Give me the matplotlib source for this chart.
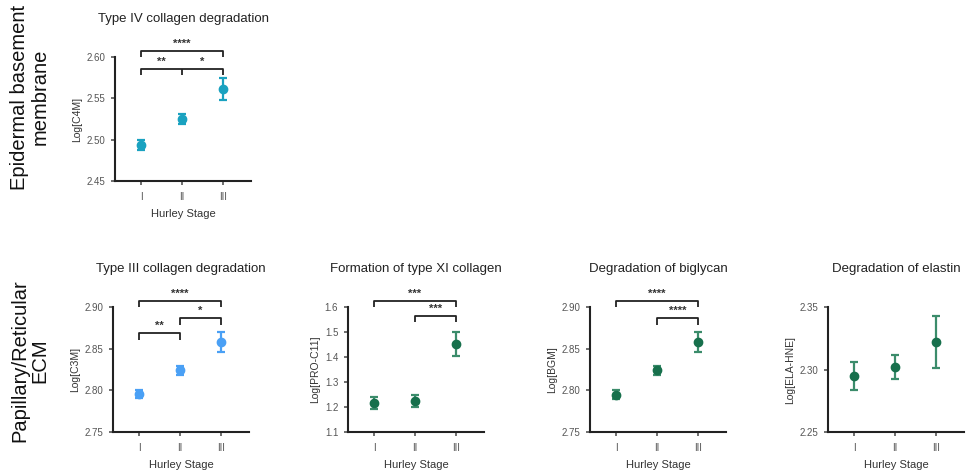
import matplotlib.pyplot as plt

plt.rcParams['font.family'] = ['Liberation Sans', 'DejaVu Sans']

stages = ['I', 'II', 'III']

c4m_mean = [2.494, 2.525, 2.561]
c4m_err = [0.006, 0.006, 0.013]

c3m_mean = [2.796, 2.824, 2.858]
c3m_err = [0.005, 0.005, 0.012]

proc11_mean = [1.215, 1.225, 1.452]
proc11_err = [0.025, 0.025, 0.048]

bgm_mean = [2.795, 2.824, 2.858]
bgm_err = [0.005, 0.005, 0.012]

elahne_mean = [2.295, 2.302, 2.322]
elahne_err = [0.011, 0.010, 0.021]

W, H = 967, 472
fig = plt.figure(figsize=(W / 100, H / 100), dpi=100)


def add_ax(left, top, bottom, width=136):
    return fig.add_axes([left / W, 1 - bottom / H, width / W, (bottom - top) / H])


def bracket(ax, x1, x2, y, h, text, mid=None):
    kw = dict(color='#222222', lw=1.3, clip_on=False, solid_capstyle='butt')
    ax.plot([x1, x1, x2, x2], [y - h, y, y, y - h], **kw)
    if mid is not None:
        ax.plot([mid, mid], [y - h, y], **kw)
    if text:
        ax.text((x1 + x2) / 2, y + h * 0.35, text, ha='center', va='bottom',
                fontsize=8, color='#333333', fontweight='bold')


def panel(ax, mean, err, color, ecolor, title, ylabel, ylim, yticks, fmt):
    x = [1, 2, 3]
    ax.errorbar(x, mean, yerr=err, fmt='o', color=color, ecolor=ecolor,
                markersize=6, elinewidth=1.6, capsize=3, capthick=1.6)
    ax.set_xlim(0.35, 3.7)
    ax.set_ylim(*ylim)
    ax.set_yticks(yticks)
    ax.set_yticklabels([fmt.format(v) for v in yticks])
    ax.set_xticks(x)
    ax.set_xticklabels(stages)
    for s in ['top', 'right']:
        ax.spines[s].set_visible(False)
    for s in ['left', 'bottom']:
        ax.spines[s].set_linewidth(1.5)
        ax.spines[s].set_color('#222222')
    ax.tick_params(labelsize=7, colors='#555555', length=3, width=1.2, pad=4)
    ax.tick_params(axis='x', pad=5)
    ax.set_xlabel('Hurley Stage', fontsize=8, color='#333333', labelpad=5)
    ax.set_ylabel(ylabel, fontsize=7.5, color='#333333', labelpad=3)
    ax.text(0.5, 1.0 + 38 / (ax.get_position().height * H), title,
            transform=ax.transAxes, ha='center', va='center',
            fontsize=9.5, color='#222222')


teal = '#1aa2c0'
blue = '#4aa0f5'
green = '#17704c'
green_bar = '#3b8c6b'

ax1 = add_ax(115, 57, 181)
panel(ax1, c4m_mean, c4m_err, teal, teal, 'Type IV collagen degradation',
      'Log[C4M]', (2.45, 2.60), [2.45, 2.50, 2.55, 2.60], '{:.2f}')
bracket(ax1, 1, 3, 2.6076, 0.0075, '****')
bracket(ax1, 1, 3, 2.5855, 0.0075, '', mid=2)
ax1.text(1.5, 2.5855 + 0.0025, '**', ha='center', va='bottom', fontsize=8,
         color='#333333', fontweight='bold')
ax1.text(2.5, 2.5855 + 0.0025, '*', ha='center', va='bottom', fontsize=8,
         color='#333333', fontweight='bold')

ax2 = add_ax(113, 307, 432)
panel(ax2, c3m_mean, c3m_err, blue, blue, 'Type III collagen degradation',
      'Log[C3M]', (2.75, 2.90), [2.75, 2.80, 2.85, 2.90], '{:.2f}')
bracket(ax2, 1, 3, 2.9076, 0.0075, '****')
bracket(ax2, 2, 3, 2.8864, 0.0075, '*')
bracket(ax2, 1, 2, 2.8684, 0.0075, '**')

ax3 = add_ax(348, 307, 432)
panel(ax3, proc11_mean, proc11_err, green, green_bar, 'Formation of type XI collagen',
      'Log[PRO-C11]', (1.1, 1.6), [1.1, 1.2, 1.3, 1.4, 1.5, 1.6], '{:.1f}')
bracket(ax3, 1, 3, 1.625, 0.025, '***')
bracket(ax3, 2, 3, 1.565, 0.025, '***')

ax4 = add_ax(590, 307, 432)
panel(ax4, bgm_mean, bgm_err, green, green_bar, 'Degradation of biglycan',
      'Log[BGM]', (2.75, 2.90), [2.75, 2.80, 2.85, 2.90], '{:.2f}')
bracket(ax4, 1, 3, 2.9076, 0.0075, '****')
bracket(ax4, 2, 3, 2.8864, 0.0075, '****')

ax5 = add_ax(828, 307, 432)
panel(ax5, elahne_mean, elahne_err, green, green_bar, 'Degradation of elastin',
      'Log[ELA-HNE]', (2.25, 2.35), [2.25, 2.30, 2.35], '{:.2f}')

fig.text(30 / W, 1 - 97 / H, 'Epidermal basement\nmembrane', rotation=90,
         ha='center', va='center', fontsize=14.5, color='#111111', linespacing=1.1)
fig.text(30 / W, 1 - 361 / H, 'Papillary/Reticular\nECM', rotation=90,
         ha='center', va='center', fontsize=14.5, color='#111111', linespacing=1.1)

fig.savefig('out.png', dpi=100)
